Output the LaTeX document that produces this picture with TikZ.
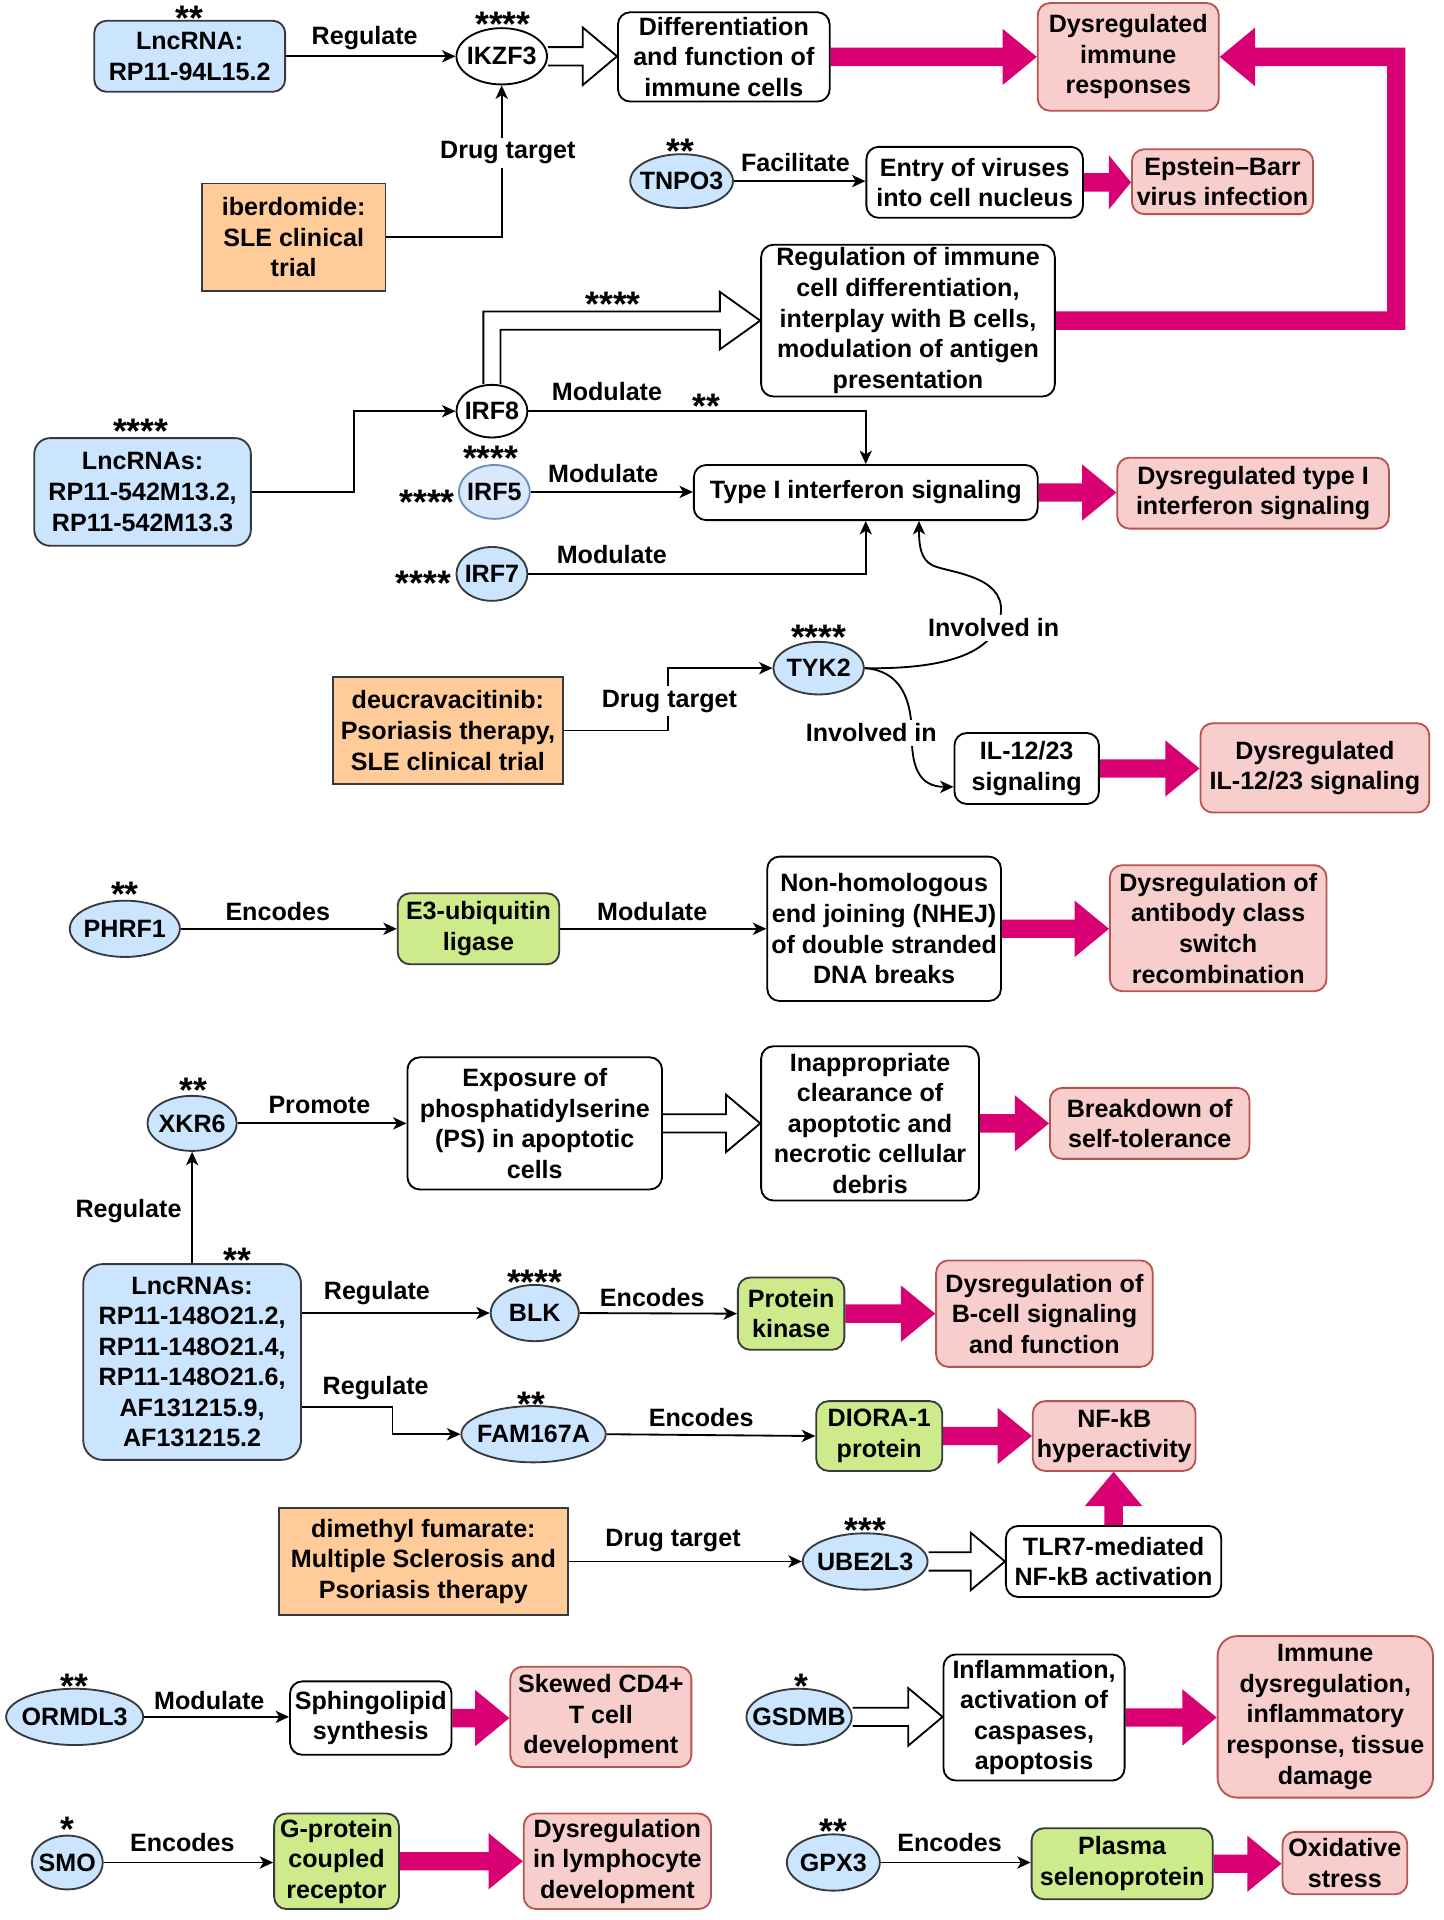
\documentclass[tikz,border=0pt]{standalone}
\usepackage{fontspec}
\setmainfont{Liberation Sans}
\usetikzlibrary{arrows.meta,calc,shapes.geometric,backgrounds}
\definecolor{blueF}{HTML}{CCE5FF}
\definecolor{darkS}{HTML}{36393D}
\definecolor{irfF}{HTML}{DAE8FC}
\definecolor{irfS}{HTML}{6C8EBF}
\definecolor{greenF}{HTML}{CDEB8B}
\definecolor{orangeF}{HTML}{FFCC99}
\definecolor{pinkF}{HTML}{F8CECC}
\definecolor{pinkS}{HTML}{B85450}
\definecolor{magc}{HTML}{D80073}
\newcommand\E[1]{\makebox[0pt]{#1}}
\newcommand\A[1]{\raisebox{-12.5pt}[8.5pt][0pt]{#1}}
\newcommand\magarrow[2]{\fill[magc] let \p1=(#1), \p2=(#2) in (\x1,\y1+7.5pt) -- (\x2-28pt,\y1+7.5pt) -- (\x2-28pt,\y1+23pt) -- (\x2,\y1) -- (\x2-28pt,\y1-23pt) -- (\x2-28pt,\y1-7.5pt) -- (\x1,\y1-7.5pt) -- cycle;}
\newcommand\hollowarrow[2]{\filldraw[hollow] let \p1=(#1), \p2=(#2) in (\x1,\y1+7.5pt) -- (\x2-28pt,\y1+7.5pt) -- (\x2-28pt,\y1+23.5pt) -- (\x2,\y1) -- (\x2-28pt,\y1-23.5pt) -- (\x2-28pt,\y1-7.5pt) -- (\x1,\y1-7.5pt);}
\tikzset{
  base/.style={draw, line width=1.5pt, align=center, inner sep=0pt, rounded corners=10pt},
  wbox/.style={base, fill=white, draw=black},
  bbox/.style={base, fill=blueF, draw=darkS},
  gbox/.style={base, fill=greenF, draw=darkS},
  pbox/.style={base, fill=pinkF, draw=pinkS},
  obox/.style={base, fill=orangeF, draw=darkS, sharp corners},
  ell/.style={ellipse, draw=darkS, fill=blueF, line width=1.5pt, inner sep=0pt},
  wel/.style={ell, draw=black, fill=white},
  sz/.style 2 args={minimum width=#1pt, minimum height=#2pt},
  conn/.style={draw=black, line width=1.5pt, -{Stealth[length=11pt,width=10pt,inset=3pt]}},
  hollow/.style={fill=white, draw=black, line width=1.5pt, line join=miter},
  wlbl/.style={fill=white, inner sep=3pt},
  ast/.style={inner sep=0pt, font=\fontsize{29pt}{30pt}\selectfont\bfseries},
}
\begin{document}
\begin{tikzpicture}[x=1pt,y=-1pt,font=\fontsize{20.5pt}{25pt}\selectfont\bfseries]
\path[use as bounding box] (0,0) rectangle (1180,1569);
\begin{scope}[on background layer]
\fill[white] (0,0) rectangle (1180,1569);
\end{scope}

% ---- nodes ----
\node[bbox, sz={156}{58}] (lnc1) at (155,46) {LncRNA:\\RP11-94L15.2};
\node[wel, sz={74}{46}] (ikzf3) at (410,46) {\E{IKZF3}};
\node[wbox, sz={173}{73}] (diff) at (591.5,46.5) {Differentiation\\and function of\\immune cells};
\node[pbox, sz={148}{88}] (dysimm) at (922,46.5) {Dysregulated\\immune\\responses};
\node[ell, sz={84}{44}] (tnpo3) at (557,148) {\E{TNPO3}};
\node[wbox, sz={177}{58}] (entry) at (796.5,149) {Entry of viruses\\into cell nucleus};
\node[pbox, sz={148}{53}] (ebv) at (999,148.5) {Epstein–Barr\\virus infection};
\node[obox, sz={150}{88}] (iber) at (240,194) {iberdomide:\\SLE clinical\\trial};
\node[wbox, sz={240}{124}] (reg) at (742,262) {Regulation of immune\\cell differentiation,\\interplay with B cells,\\modulation of antigen\\presentation};
\node[wel, sz={58}{43}] (irf8) at (402,336) {\E{IRF8}};
\node[bbox, rounded corners=13pt, sz={177}{88}] (lnc2) at (116.5,402) {LncRNAs:\\RP11-542M13.2,\\RP11-542M13.3};
\node[ell, fill=irfF, draw=irfS, sz={58}{44}] (irf5) at (404,402) {\E{IRF5}};
\node[wbox, sz={281}{45}] (typeI) at (707.5,402.5) {Type I interferon signaling};
\node[pbox, sz={222}{58}] (dystypeI) at (1024,403) {Dysregulated type I\\interferon signaling};
\node[ell, sz={58}{44}] (irf7) at (402,469) {\E{IRF7}};
\node[ell, sz={74}{43}] (tyk2) at (669,546) {\E{TYK2}};
\node[obox, sz={188}{88}] (deucra) at (366,597) {deucravacitinib:\\Psoriasis therapy,\\SLE clinical trial};
\node[wbox, sz={118}{58}] (il12) at (839,628) {IL-12/23\\signaling};
\node[pbox, sz={187}{73}] (dysil) at (1074.5,627.5) {Dysregulated\\IL-12/23 signaling};

\node[ell, sz={90}{46}] (phrf1) at (102,759) {\E{PHRF1}};
\node[gbox, sz={132}{58}] (e3) at (391,759) {E3-ubiquitin\\ligase};
\node[wbox, sz={191}{118}] (nhej) at (722.5,759) {Non-homologous\\end joining (NHEJ)\\of double stranded\\DNA breaks};
\node[pbox, sz={177}{103}] (dysab) at (995.5,758.5) {Dysregulation of\\antibody class\\switch\\recombination};

\node[ell, sz={73}{45}] (xkr6) at (157,918) {\E{XKR6}};
\node[wbox, sz={208}{108}] (expo) at (437,918) {Exposure of\\phosphatidylserine\\(PS) in apoptotic\\cells};
\node[wbox, sz={178}{126}] (inapp) at (711,918) {Inappropriate\\clearance of\\apoptotic and\\necrotic cellular\\debris};
\node[pbox, sz={163}{58}] (brk) at (939.5,918) {Breakdown of\\self-tolerance};

\node[bbox, rounded corners=16pt, sz={178}{160}] (lnc3) at (157,1113) {LncRNAs:\\RP11-148O21.2,\\RP11-148O21.4,\\RP11-148O21.6,\\AF131215.9,\\AF131215.2};
\node[ell, sz={72}{46}] (blk) at (437,1073) {\E{BLK}};
\node[gbox, sz={87}{59}] (pk) at (646.5,1073.5) {Protein\\kinase};
\node[pbox, sz={177}{87}] (dysb) at (853.5,1073.5) {Dysregulation of\\B-cell signaling\\and function};
\node[ell, sz={118}{46}] (fam) at (436,1172) {\E{FAM167A}};
\node[gbox, sz={103}{57}] (diora) at (718.5,1173.5) {DIORA-1\\protein};
\node[pbox, sz={133}{57}] (nfkb) at (910.5,1173.5) {NF-kB\\hyperactivity};
\node[obox, sz={236}{88}] (dmf) at (346,1276) {dimethyl fumarate:\\Multiple Sclerosis and\\Psoriasis therapy};
\node[ell, sz={102}{46}] (ube) at (707,1276) {\E{UBE2L3}};
\node[wbox, sz={176}{58}] (tlr7) at (910,1276) {TLR7-mediated\\NF-kB activation};

\node[ell, sz={112}{46}] (ormdl3) at (61,1403) {\E{ORMDL3}};
\node[wbox, sz={132}{60}] (sphingo) at (303,1404) {Sphingolipid\\synthesis};
\node[pbox, sz={148}{82}] (skew) at (491,1403) {Skewed CD4+\\T cell\\development};
\node[ell, sz={86}{46}] (gsdmb) at (653,1403) {\E{GSDMB}};
\node[wbox, sz={148}{103}] (inflam) at (845,1403.5) {Inflammation,\\activation of\\caspases,\\apoptosis};
\node[pbox, rounded corners=16pt, sz={176}{132}] (immdys) at (1083,1403) {Immune\\dysregulation,\\inflammatory\\response, tissue\\damage};
\node[ell, sz={58}{44}] (smo) at (55,1522) {\E{SMO}};
\node[gbox, sz={102}{78}] (gprot) at (275,1521) {G-protein\\coupled\\receptor};
\node[pbox, sz={153}{78}] (dyslym) at (504.5,1521) {Dysregulation\\in lymphocyte\\development};
\node[ell, sz={76}{46}] (gpx3) at (681,1522) {\E{GPX3}};
\node[gbox, sz={148}{58}] (plasma) at (917,1523) {Plasma\\selenoprotein};
\node[pbox, sz={102}{51}] (oxid) at (1099,1522.5) {Oxidative\\stress};

% ---- connectors ----
\begin{scope}[on background layer]
\draw[conn] (lnc1.east) -- (ikzf3.west);
\draw[conn] (iber.east) -| (ikzf3.south);
\hollowarrow{ikzf3.east}{diff.west}
\magarrow{diff.east}{dysimm.west}
\draw[conn] (tnpo3.east) -- (tnpo3.east -| entry.west);
\fill[magc] let \p1=(entry.east), \p2=(ebv.west) in (\x1,\y1+7.5pt) -- (\x2-18pt,\y1+7.5pt) -- (\x2-18pt,\y1+22pt) -- (\x2,\y1) -- (\x2-18pt,\y1-22pt) -- (\x2-18pt,\y1-7.5pt) -- (\x1,\y1-7.5pt) -- cycle;
\coordinate (turn) at (1141,262);
\fill[magc] let \p1=(reg.east), \p2=(dysimm.east), \p3=(turn) in
  (\x1,\y1+7.5pt) -- (\x3-7.5pt,\y1+7.5pt) -- (\x3-7.5pt,\y2-7.5pt) -- (\x2+29pt,\y2-7.5pt) -- (\x2+29pt,\y2-24pt) -- (\x2,\y2) -- (\x2+29pt,\y2+24pt) -- (\x2+29pt,\y2+7.5pt) -- (\x3+7.5pt,\y2+7.5pt) -- (\x3+7.5pt,\y1-7.5pt) -- (\x1,\y1-7.5pt) -- cycle;
\filldraw[hollow] let \p1=(irf8.north), \p2=(reg.west) in (\x1-7pt,\y1) -- (\x1-7pt,\y2+7.5pt) -- (\x2-33pt,\y2+7.5pt) -- (\x2-33pt,\y2+23.5pt) -- (\x2,\y2) -- (\x2-33pt,\y2-23.5pt) -- (\x2-33pt,\y2-7.5pt) -- (\x1+7pt,\y2-7.5pt) -- (\x1+7pt,\y1);
\draw[conn] (lnc2.east) -| ($(lnc2.east)!0.5!(irf8.west)$) |- (irf8.west);
\draw[conn] (irf8.east) -| (typeI.north);
\draw[conn] (irf5.east) -- (irf5.east -| typeI.west);
\draw[conn] (irf7.east) -| (typeI.south);
\magarrow{typeI.east}{dystypeI.west}
\draw[conn] (tyk2.east) .. controls (770,547) and (815,535) .. (818,500) .. controls (820,470) and (775,468) .. (762,462) .. controls (752,457) and (751,445) .. ($(typeI.south)+(43.5,0)$);
\draw[conn] (tyk2.east) .. controls (735,548) and (745,570) .. (745,600) .. controls (745,625) and (750,643) .. ($(il12.west)+(0,15)$);
\draw[conn] (deucra.east) -| ($(deucra.east)!0.5!(tyk2.west)$) |- (tyk2.west);
\magarrow{il12.east}{dysil.west}

\draw[conn] (phrf1.east) -- (e3.west);
\draw[conn] (e3.east) -- (nhej.west);
\magarrow{nhej.east}{dysab.west}

\draw[conn] (xkr6.east) -- (expo.west);
\hollowarrow{expo.east}{inapp.west}
\magarrow{inapp.east}{brk.west}
\draw[conn] (lnc3.north) -- (xkr6.south);
\draw[conn] (lnc3.east |- blk.west) -- (blk.west);
\draw[conn] ($(lnc3.east)+(0,37)$) -- ++(74,0) |- (fam.west);
\draw[conn] (blk.east) -- (pk.west);
\magarrow{pk.east}{dysb.west}
\draw[conn] (fam.east) -- (diora.west);
\magarrow{diora.east}{nfkb.west}
\draw[conn] (dmf.east) -- (ube.west);
\hollowarrow{ube.east}{tlr7.west}
\fill[magc] let \p1=(tlr7.north), \p2=(nfkb.south) in (\x1-7.5pt,\y1) -- (\x1-7.5pt,\y2-28pt) -- (\x1-23.5pt,\y2-28pt) -- (\x1,\y2) -- (\x1+23.5pt,\y2-28pt) -- (\x1+7.5pt,\y2-28pt) -- (\x1+7.5pt,\y1) -- cycle;

\draw[conn] (ormdl3.east) -- (ormdl3.east -| sphingo.west);
\magarrow{sphingo.east}{skew.west}
\hollowarrow{gsdmb.east}{inflam.west}
\magarrow{inflam.east}{immdys.west}
\draw[conn] (smo.east) -- (smo.east -| gprot.west);
\magarrow{gprot.east}{dyslym.west}
\draw[conn] (gpx3.east) -- (gpx3.east -| plasma.west);
\magarrow{plasma.east}{oxid.west}
\end{scope}

% ---- labels ----
\node[ast] (a1) at (155,8) {\A{**}};
\node (l1) at (298,31) {Regulate};
\node[ast] (a2) at (411,13) {\A{****}};
\node[ast] (a3) at (556,117) {\A{**}};
\node (l2) at (650,133) {Facilitate};
\node[wlbl] (l3) at (415,125) {Drug target};
\node[ast] (a4) at (501,242) {\A{****}};
\node[ast] (a5) at (115,346) {\A{****}};
\node (l4) at (496,320) {Modulate};
\node[ast] (a6) at (577,325) {\A{**}};
\node[ast] (a7) at (401,368) {\A{****}};
\node[ast] (a8) at (349,404) {\A{****}};
\node (l5) at (493,387) {Modulate};
\node[ast] (a9) at (346,470) {\A{****}};
\node (l6) at (500,453) {Modulate};
\node[wlbl] (l7) at (812,513) {Involved in};
\node[ast] (a10) at (669,514) {\A{****}};
\node[wlbl] (l8) at (547,573) {Drug target};
\node[wlbl] (l9) at (712,599) {Involved in};

\node[ast] (a11) at (102,724) {\A{**}};
\node (l10) at (227,745) {Encodes};
\node (l11) at (533,745) {Modulate};

\node[ast] (a12) at (158,884) {\A{**}};
\node (l12) at (261,903) {Promote};
\node (l13) at (105,990) {Regulate};
\node[ast] (a13) at (194,1023) {\A{**}};
\node (l14) at (308,1057) {Regulate};
\node[ast] (a14) at (437,1041) {\A{****}};
\node (l15) at (533,1060) {Encodes};
\node (l16) at (307,1134) {Regulate};
\node[ast] (a15) at (434,1141) {\A{**}};
\node (l17) at (573,1158) {Encodes};
\node (l18) at (550,1259) {Drug target};
\node[ast] (a16) at (707,1244) {\A{***}};

\node[ast] (a17) at (61,1371) {\A{**}};
\node (l19) at (171,1390) {Modulate};
\node[ast] (a18) at (655,1371) {\A{*}};
\node[ast] (a19) at (55,1488) {\A{*}};
\node (l20) at (149,1506) {Encodes};
\node[ast] (a20) at (681,1490) {\A{**}};
\node (l21) at (776,1506) {Encodes};
\end{tikzpicture}
\end{document}
